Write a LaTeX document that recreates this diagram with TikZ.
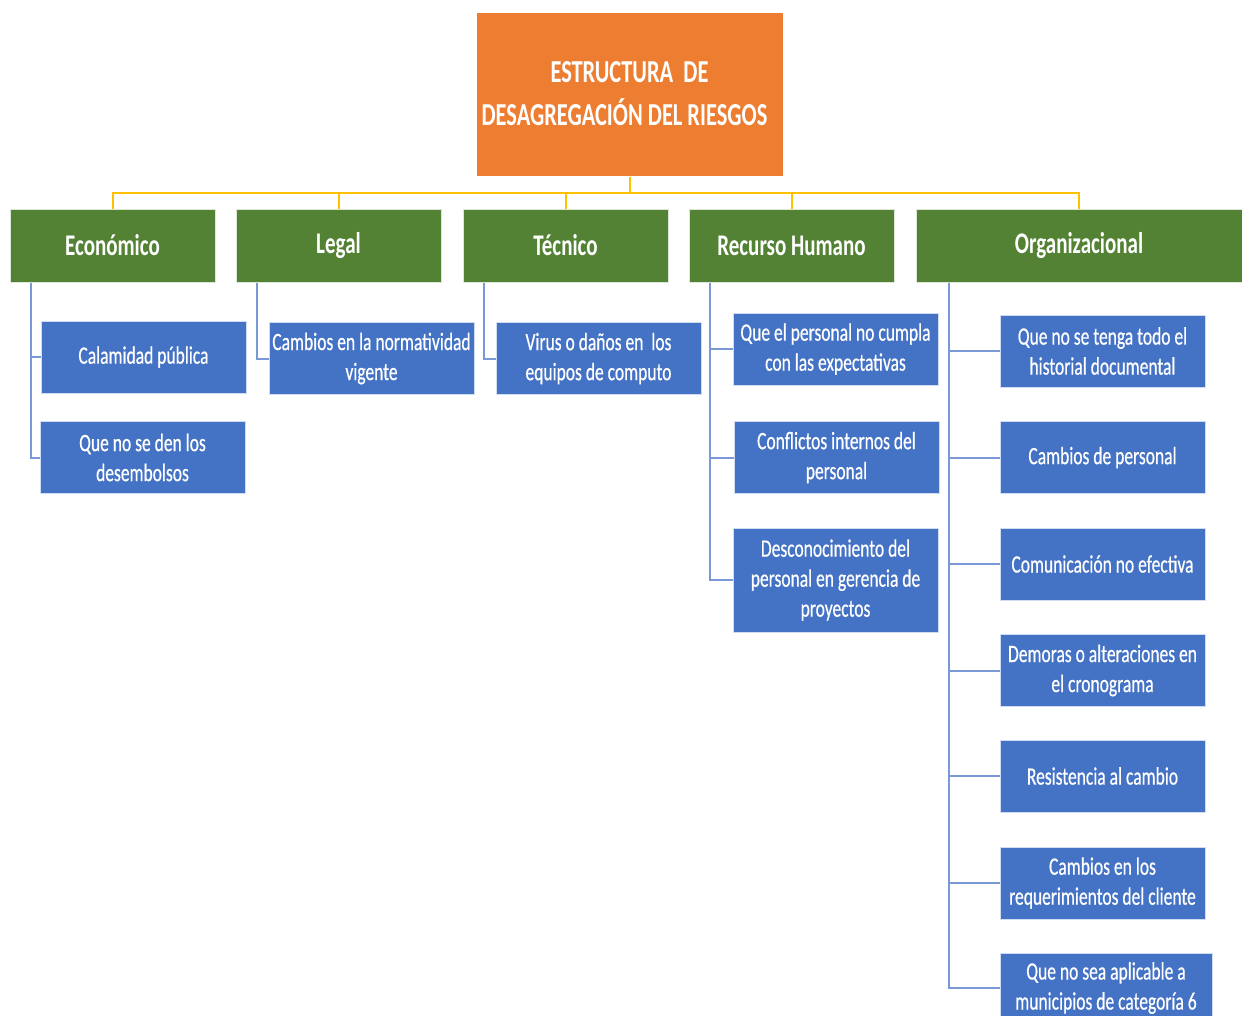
\documentclass[tikz,border=0pt]{standalone}
\usepackage{fontspec}
\setmainfont{Carlito}[FakeStretch=0.7]
\newfontfamily\riesgofont{Carlito}[FakeStretch=0.7, FakeBold=0.5]
\usepackage{xcolor}
\usetikzlibrary{positioning,calc}

\definecolor{naranja}{HTML}{ED7D31}
\definecolor{verde}{HTML}{548235}
\definecolor{azul}{HTML}{4472C4}
\definecolor{amarillo}{HTML}{FFC000}
\definecolor{linea}{HTML}{7A98D6}

\tikzset{
  raiz/.style={fill=naranja, draw=white, line width=1pt, text=white, inner sep=0pt,
    minimum width=307, minimum height=164, align=center,
    font=\bfseries\fontsize{32}{43}\selectfont},
  categoria/.style={fill=verde, draw=white!80!verde, line width=1pt, text=white, inner sep=0pt,
    minimum width=205, minimum height=73, align=center,
    font=\bfseries\fontsize{30}{36}\selectfont},
  riesgo/.style={fill=azul, draw=white!75!azul, line width=1pt, text=white, inner sep=0pt,
    minimum width=205, minimum height=72, align=center,
    font=\riesgofont\fontsize{25}{30}\selectfont},
  tronco/.style={draw=amarillo, line width=2pt},
  rama/.style={draw=linea, line width=2pt}
}

\begin{document}
\begin{tikzpicture}[x=1pt, y=-1pt]
    \useasboundingbox (0,0) rectangle (1242,1015);
    \clip (0,0) rectangle (1242,1015);

    % Root
    \node[raiz] (top) at (629.5,94) {ESTRUCTURA\ \ DE\\DESAGREGACIÓN DEL RIESGOS\hbox to 10pt{}};

    % Categories
    \node[categoria] (eco) at (112.5,245.5) {Económico};
    \node[categoria] (leg) at (338.5,245.5) {Legal};
    \node[categoria] (tec) at (565.5,245.5) {Técnico};
    \node[categoria] (rh)  at (791.5,245.5) {Recurso Humano};
    \node[categoria, minimum width=326] (org) at (1079,245.5) {Organizacional};

    % Yellow connectors
    \draw[tronco] (top.south) -- ++(0,16) coordinate (hub);
    \foreach \c in {eco,leg,tec,rh,org}
        \draw[tronco] (hub) -| (\c.north);

    % Risks: Economico
    \node[riesgo] (eco1) at (143.5,357) {Calamidad pública};
    \node[riesgo] (eco2) at (142.5,457.5) {Que no se den los\\desembolsos};

    % Risks: Legal and Tecnico
    \node[riesgo] (leg1) at (371.5,358.5) {Cambios en la normatividad\\vigente};
    \node[riesgo] (tec1) at (598.5,358.5) {Virus o daños en\ \ los\\equipos de computo};

    % Risks: Recurso Humano
    \node[riesgo] (rh1) at (835.5,349) {Que el personal no cumpla\\con las expectativas};
    \node[riesgo] (rh2) at (836.5,457.5) {Conflictos internos del\\personal};
    \node[riesgo, minimum height=104] (rh3) at (835.5,580) {Desconocimiento del\\personal en gerencia de\\proyectos};

    % Risks: Organizacional
    \node[riesgo] (org1) at (1102.5,351) {Que no se tenga todo el\\historial documental};
    \node[riesgo] (org2) at (1102.5,457.5) {Cambios de personal};
    \node[riesgo] (org3) at (1102.5,564) {Comunicación no efectiva};
    \node[riesgo] (org4) at (1102.5,670.5) {Demoras o alteraciones en\\el cronograma};
    \node[riesgo] (org5) at (1102.5,776) {Resistencia al cambio};
    \node[riesgo] (org6) at (1102.5,883) {Cambios en los\\requerimientos del cliente};
    \node[riesgo, minimum width=212, minimum height=70] (org7) at (1106,988) {Que no sea aplicable a\\municipios de categoría 6};

    % Blue connectors
    \foreach \r in {eco1,eco2}
        \draw[rama] ([xshift=21]eco.south west) |- (\r.west);
    \draw[rama] ([xshift=21]leg.south west) |- (leg1.west);
    \draw[rama] ([xshift=21]tec.south west) |- (tec1.west);
    \foreach \r in {rh1,rh2,rh3}
        \draw[rama] ([xshift=21]rh.south west) |- (\r.west);
    \foreach \r in {org1,org2,org3,org4,org5,org6,org7}
        \draw[rama] ([xshift=33]org.south west) |- (\r.west);
\end{tikzpicture}
\end{document}
